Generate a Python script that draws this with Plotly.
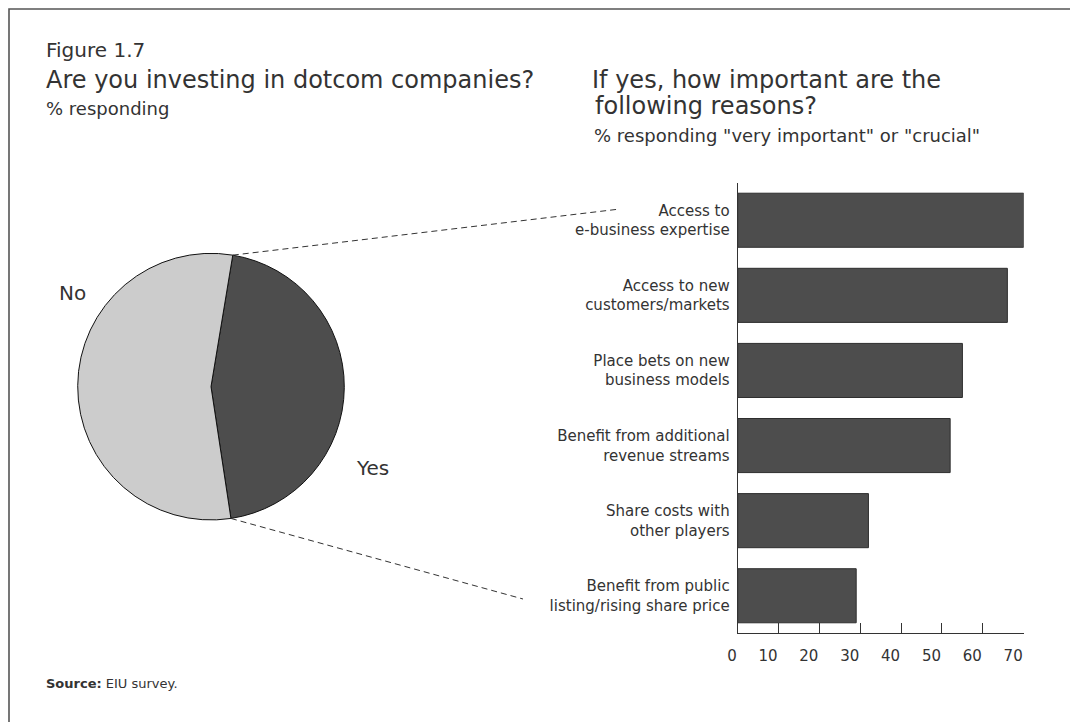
import math
import plotly.graph_objects as go

# ---- data -------------------------------------------------------------
pie_labels = ["Yes", "No"]
pie_values = [45, 55]

reasons = [
    "Access to<br>e-business expertise",
    "Access to new<br>customers/markets",
    "Place bets on new<br>business models",
    "Benefit from additional<br>revenue streams",
    "Share costs with<br>other players",
    "Benefit from public<br>listing/rising share price",
]
reason_pct = [70, 66, 55, 52, 32, 29]

x_ticks = [0, 10, 20, 30, 40, 50, 60, 70]

# ---- page geometry (pixels) ------------------------------------------
W, H = 1070, 722
FONT = "DejaVu Sans"
TXT = "#333333"
DARK = "#4d4d4d"
LIGHT = "#cccccc"


def px(x):
    return x / W


def py(y):
    return 1 - y / H


pie_box = dict(left=77.7, right=344.3, top=253.3, bottom=520.0)
pie_rotation = 9.4

fig = go.Figure()

fig.add_trace(go.Pie(
    labels=pie_labels,
    values=pie_values,
    sort=False,
    direction="clockwise",
    rotation=pie_rotation,
    marker=dict(colors=[DARK, LIGHT], line=dict(color="#111111", width=1)),
    textinfo="none",
    hoverinfo="label+percent",
    showlegend=False,
    automargin=False,
    domain=dict(x=[px(pie_box["left"]), px(pie_box["right"])],
                y=[py(pie_box["bottom"]), py(pie_box["top"])]),
))

fig.add_trace(go.Bar(
    x=reason_pct,
    y=reasons,
    orientation="h",
    width=0.72,
    marker=dict(color=DARK, line=dict(color="#2e2e2e", width=1)),
    showlegend=False,
    xaxis="x",
    yaxis="y",
))

# ---- connector lines from the "Yes" slice edges to the bar panel -----
cx = (pie_box["left"] + pie_box["right"]) / 2
cy = (pie_box["top"] + pie_box["bottom"]) / 2
r = (pie_box["right"] - pie_box["left"]) / 2
yes_share = pie_values[0] / sum(pie_values)
start_angles = [pie_rotation, pie_rotation + 360 * yes_share]
connector_ends = [(620, 209), (523, 599)]

shapes = []
for ang, (ex, ey) in zip(start_angles, connector_ends):
    a = math.radians(ang)
    sx = cx + r * math.sin(a)
    sy = cy - r * math.cos(a)
    shapes.append(dict(
        type="line", xref="paper", yref="paper",
        x0=px(sx), y0=py(sy), x1=px(ex), y1=py(ey),
        line=dict(color="#333333", width=1, dash="6px,4px"),
    ))

# outer frame (open at right and bottom)
shapes.append(dict(
    type="rect", xref="paper", yref="paper",
    x0=px(9), y0=py(9), x1=px(1090), y1=py(745),
    line=dict(color="#555555", width=1.6),
))


def label(text, x, y, size, xanchor="left", bold=False):
    return dict(
        text=f"<b>{text}</b>" if bold else text,
        x=px(x), y=py(y), xref="paper", yref="paper",
        xanchor=xanchor, yanchor="middle", showarrow=False,
        font=dict(family=FONT, size=size, color=TXT),
    )


annotations = [
    label("Figure 1.7", 44, 50.5, 20),
    label("Are you investing in dotcom companies?", 44, 79.5, 24),
    label("% responding", 44, 108.5, 18),
    label("If yes, how important are the", 590, 79.5, 24),
    label("following reasons?", 593, 106.5, 24),
    label("% responding \"very important\" or \"crucial\"", 592, 135, 18),
    label("No", 72, 293, 20, xanchor="center"),
    label("Yes", 372, 468, 20, xanchor="center"),
    dict(
        text="<b>Source:</b> EIU survey.",
        x=px(44), y=py(683), xref="paper", yref="paper",
        xanchor="left", yanchor="middle", showarrow=False,
        font=dict(family=FONT, size=13, color=TXT),
    ),
]

fig.update_layout(
    width=W, height=H,
    margin=dict(l=0, r=0, t=0, b=0, pad=0, autoexpand=False),
    paper_bgcolor="white",
    plot_bgcolor="white",
    shapes=shapes,
    annotations=annotations,
    xaxis=dict(
        domain=[px(737.7), px(1023.7)],
        range=[0, 70],
        tickvals=x_ticks,
        ticks="inside",
        ticklen=10,
        tickwidth=1,
        tickcolor="#333333",
        ticklabelposition="outside left",
        ticklabelstandoff=9,
        showline=True,
        linecolor="#333333",
        linewidth=1,
        showgrid=False,
        zeroline=False,
        automargin=False,
        tickfont=dict(family=FONT, size=15, color=TXT),
        fixedrange=True,
    ),
    yaxis=dict(
        domain=[py(633.3), py(182.7)],
        type="category",
        range=[5.5, -0.5],
        ticks="",
        showline=True,
        linecolor="#333333",
        linewidth=1,
        showgrid=False,
        zeroline=False,
        automargin=False,
        ticklabelstandoff=4,
        tickfont=dict(family=FONT, size=15, color=TXT),
        fixedrange=True,
    ),
)

fig.write_html("out.html")
